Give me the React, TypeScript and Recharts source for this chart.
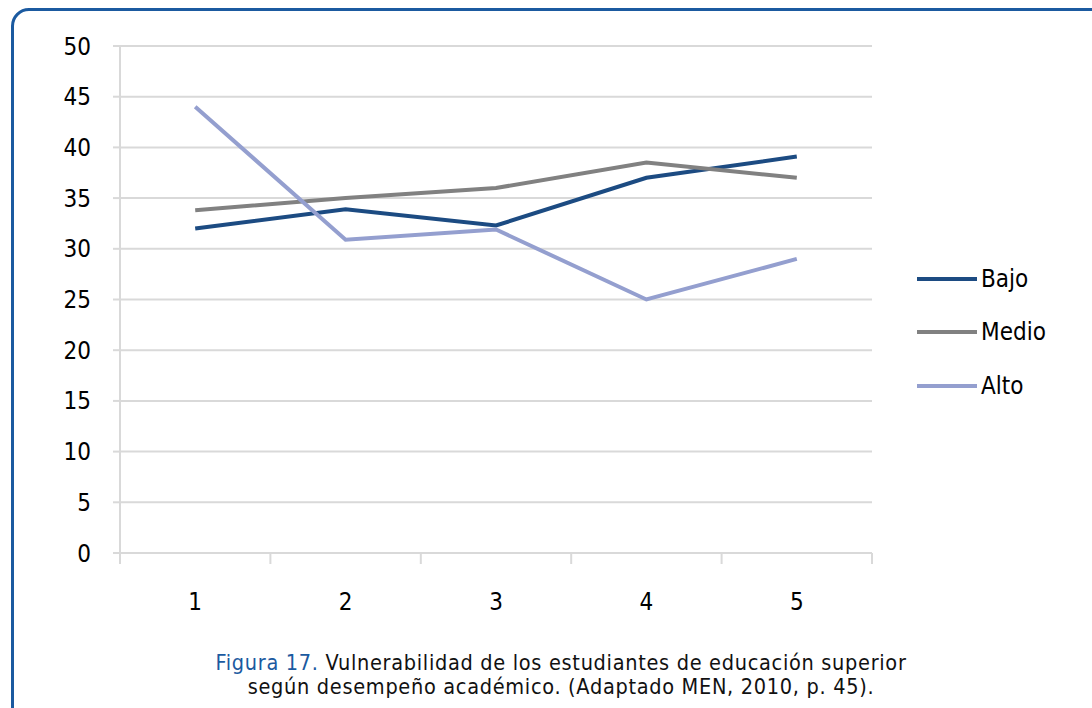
import { LineChart, Line, XAxis, YAxis, CartesianGrid } from "recharts"

const categories = [1, 2, 3, 4, 5]
const bajo = [32, 33.9, 32.3, 37, 39.1]
const medio = [33.8, 35, 36, 38.5, 37]
const alto = [44, 30.9, 31.9, 25, 29]
const yTicks = [0, 5, 10, 15, 20, 25, 30, 35, 40, 45, 50]
const boundaryTicks = [0.5, 1.5, 2.5, 3.5, 4.5, 5.5]

const series = [
    { key: "bajo", name: "Bajo", color: "#1c4b82" },
    { key: "medio", name: "Medio", color: "#818181" },
    { key: "alto", name: "Alto", color: "#949fcf" },
]

const rows = categories.map((c, i) => ({ x: c, bajo: bajo[i], medio: medio[i], alto: alto[i] }))

const font = "'DejaVu Sans Condensed', 'DejaVu Sans', sans-serif"
const gridColor = "#d9d9d9"

export default function App() {
    return (
        <div style={{ position: "absolute", left: 0, top: 0, width: 1092, height: 708, overflow: "hidden", background: "#fff", fontFamily: font }}>
            <div
                style={{
                    position: "absolute",
                    left: 11,
                    top: 8,
                    width: 1110,
                    height: 730,
                    border: "3px solid #1b5aa0",
                    borderRadius: 18,
                    boxSizing: "border-box",
                }}
            />
            <div style={{ position: "absolute", left: 0, top: 0 }}>
                <LineChart width={1092} height={640} data={rows} margin={{ top: 46, right: 220, bottom: 16, left: 20 }}>
                    <CartesianGrid horizontal vertical={false} stroke={gridColor} strokeWidth={2} />
                    <XAxis
                        xAxisId="a_ticks"
                        dataKey="x"
                        type="number"
                        domain={[0.5, 5.5]}
                        ticks={boundaryTicks}
                        tickFormatter={() => ""}
                        tickSize={11}
                        height={11}
                        axisLine={{ stroke: gridColor, strokeWidth: 2 }}
                        tickLine={{ stroke: gridColor, strokeWidth: 2 }}
                    />
                    <XAxis
                        xAxisId="b_labels"
                        dataKey="x"
                        type="number"
                        domain={[0.5, 5.5]}
                        ticks={categories}
                        axisLine={false}
                        tickLine={false}
                        tickSize={0}
                        tickMargin={29}
                        height={60}
                        tick={{ fill: "#000", fontSize: 24, fontFamily: font }}
                    />
                    <YAxis
                        domain={[0, 50]}
                        ticks={yTicks}
                        width={100}
                        tickSize={7}
                        tickMargin={22}
                        axisLine={{ stroke: gridColor, strokeWidth: 2 }}
                        tickLine={{ stroke: gridColor, strokeWidth: 2 }}
                        tick={{ fill: "#000", fontSize: 24, fontFamily: font }}
                    />
                    {series.map((s) => (
                        <Line
                            key={s.key}
                            xAxisId="a_ticks"
                            dataKey={s.key}
                            name={s.name}
                            stroke={s.color}
                            strokeWidth={4}
                            dot={false}
                            isAnimationActive={false}
                        />
                    ))}
                </LineChart>
            </div>
            <div style={{ position: "absolute", left: 917, top: 252 }}>
                {series.map((s) => (
                    <div key={s.key} style={{ display: "flex", alignItems: "center", height: 53.5 }}>
                        <div style={{ width: 60, height: 4, background: s.color, marginRight: 4 }} />
                        <span style={{ fontSize: 24, color: "#000", lineHeight: "24px" }}>{s.name}</span>
                    </div>
                ))}
            </div>
            <div
                style={{
                    position: "absolute",
                    left: 0,
                    width: 1122,
                    top: 651,
                    textAlign: "center",
                    fontSize: 21.5,
                    letterSpacing: 0.7,
                    lineHeight: "24px",
                    color: "#111",
                }}
            >
                <span style={{ color: "#1b5aa0" }}>Figura 17.</span> Vulnerabilidad de los estudiantes de educación superior
                <br />
                según desempeño académico. (Adaptado MEN, 2010, p. 45).
            </div>
        </div>
    )
}
